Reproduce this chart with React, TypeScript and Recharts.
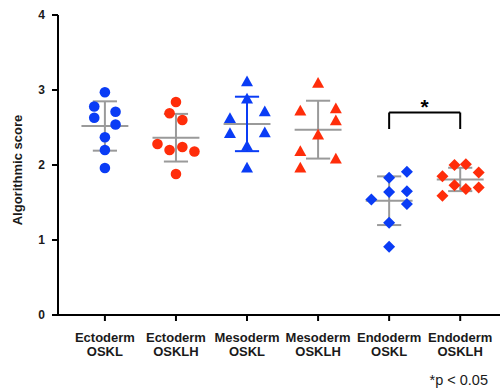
import { ScatterChart, Scatter, XAxis, YAxis, ReferenceLine, ReferenceDot } from "recharts";

const layerNames = ["Ectoderm", "Ectoderm", "Mesoderm", "Mesoderm", "Endoderm", "Endoderm"];
const factorNames = ["OSKL", "OSKLH", "OSKL", "OSKLH", "OSKL", "OSKLH"];
const yTicks = [0, 1, 2, 3, 4];

const ectoOsklScores = [2.97, 2.78, 2.71, 2.63, 2.54, 2.37, 2.2, 1.96];
const ectoOsklJitter = [0, -0.15, 0.15, -0.15, 0.15, 0, 0, 0];
const ectoOsklhScores = [2.84, 2.69, 2.6, 2.28, 2.2, 2.24, 2.18, 1.88];
const ectoOsklhJitter = [0, -0.09, 0.09, -0.26, -0.09, 0.09, 0.26, 0];
const mesoOsklScores = [3.11, 2.88, 2.62, 2.71, 2.42, 2.43, 2.25, 1.96];
const mesoOsklJitter = [0, 0, -0.24, 0.25, -0.24, 0.25, 0, 0];
const mesoOsklhScores = [3.09, 2.72, 2.75, 2.59, 2.4, 2.18, 2.08, 1.96];
const mesoOsklhJitter = [0, -0.25, 0.25, 0.25, 0, -0.25, 0.25, -0.25];
const endoOsklScores = [1.91, 1.83, 1.64, 1.65, 1.54, 1.48, 1.23, 0.91];
const endoOsklJitter = [0.25, 0, 0, 0.25, -0.25, 0.25, 0, 0];
const endoOsklhScores = [2.0, 2.01, 1.85, 1.9, 1.73, 1.68, 1.7, 1.59];
const endoOsklhJitter = [-0.08, 0.08, -0.25, 0.26, -0.08, 0.08, 0.26, -0.25];

const BLUE = "#0a3cf5";
const RED = "#ff2d0a";
const GREY = "#9a9a9a";

const groups = [
  { scores: ectoOsklScores, jitter: ectoOsklJitter, color: BLUE, kind: "circle", bar: GREY },
  { scores: ectoOsklhScores, jitter: ectoOsklhJitter, color: RED, kind: "circle", bar: GREY },
  { scores: mesoOsklScores, jitter: mesoOsklJitter, color: BLUE, kind: "triangle", bar: BLUE },
  { scores: mesoOsklhScores, jitter: mesoOsklhJitter, color: RED, kind: "triangle", bar: GREY },
  { scores: endoOsklScores, jitter: endoOsklJitter, color: BLUE, kind: "diamond", bar: GREY },
  { scores: endoOsklhScores, jitter: endoOsklhJitter, color: RED, kind: "diamond", bar: GREY },
];

function stats(v: number[]) {
  const mean = v.reduce((s, x) => s + x, 0) / v.length;
  const sd = Math.sqrt(v.reduce((s, x) => s + (x - mean) ** 2, 0) / (v.length - 1));
  return { mean, sd };
}

const makeShape = (kind: string, color: string) => (props: any) => {
  const { cx, cy } = props;
  if (kind === "circle") return <circle cx={cx} cy={cy} r={5.3} fill={color} />;
  if (kind === "triangle")
    return <polygon points={`${cx},${cy - 6.2} ${cx - 6},${cy + 4.6} ${cx + 6},${cy + 4.6}`} fill={color} />;
  return <polygon points={`${cx},${cy - 6} ${cx + 6},${cy} ${cx},${cy + 6} ${cx - 6},${cy}`} fill={color} />;
};

const font = "'Liberation Sans', Arial, sans-serif";

const XTick = (props: any) => {
  const { x, y, payload } = props;
  const i = payload.value as number;
  return (
    <text x={x} y={y} textAnchor="middle" fontFamily={font} fontSize={13} fontWeight="bold" fill="#1a1a1a">
      <tspan x={x} dy={19}>{layerNames[i]}</tspan>
      <tspan x={x} dy={14}>{factorNames[i]}</tspan>
    </text>
  );
};

export default function App() {
  return (
    <div style={{ position: "absolute", left: 0, top: 0, width: 502, height: 390, background: "#fff" }}>
      <ScatterChart width={502} height={390} margin={{ top: 15, right: 2, bottom: 10, left: 0 }}>
        <XAxis
          type="number"
          dataKey="x"
          domain={[-0.66, 5.56]}
          ticks={[0, 1, 2, 3, 4, 5]}
          allowDataOverflow
          height={65}
          tickSize={6}
          tick={<XTick />}
          axisLine={{ stroke: "#000", strokeWidth: 2 }}
          tickLine={{ stroke: "#000", strokeWidth: 2 }}
        />
        <YAxis
          type="number"
          dataKey="y"
          domain={[0, 4]}
          ticks={yTicks}
          width={58}
          tickSize={6}
          tickMargin={7}
          tick={{ fontFamily: font, fontSize: 12, fontWeight: "bold", fill: "#1a1a1a" }}
          axisLine={{ stroke: "#000", strokeWidth: 2 }}
          tickLine={{ stroke: "#000", strokeWidth: 2 }}
          label={{
            content: () => (
              <text
                transform="translate(17,170) rotate(-90)"
                textAnchor="middle"
                dominantBaseline="central"
                fontFamily={font}
                fontSize={13}
                fontWeight="bold"
                fill="#1a1a1a"
              >
                Algorithmic score
              </text>
            ),
          }}
        />
        {groups.map((g, i) => (
          <Scatter
            key={`s${i}`}
            data={g.scores.map((y, j) => ({ x: i + g.jitter[j], y }))}
            shape={makeShape(g.kind, g.color)}
            isAnimationActive={false}
          />
        ))}
        {groups.map((g, i) => {
          const { mean, sd } = stats(g.scores);
          return [
            <ReferenceLine key={`m${i}`} segment={[{ x: i - 0.33, y: mean }, { x: i + 0.33, y: mean }]} stroke={GREY} strokeWidth={2} />,
            <ReferenceLine key={`v${i}`} segment={[{ x: i, y: mean - sd }, { x: i, y: mean + sd }]} stroke={g.bar} strokeWidth={2} />,
            <ReferenceLine key={`t${i}`} segment={[{ x: i - 0.17, y: mean + sd }, { x: i + 0.17, y: mean + sd }]} stroke={g.bar} strokeWidth={2} />,
            <ReferenceLine key={`b${i}`} segment={[{ x: i - 0.17, y: mean - sd }, { x: i + 0.17, y: mean - sd }]} stroke={g.bar} strokeWidth={2} />,
          ];
        })}
        <ReferenceLine segment={[{ x: 4, y: 2.48 }, { x: 4, y: 2.7 }]} stroke="#000" strokeWidth={2} />
        <ReferenceLine segment={[{ x: 4, y: 2.7 }, { x: 5, y: 2.7 }]} stroke="#000" strokeWidth={2} />
        <ReferenceLine segment={[{ x: 5, y: 2.7 }, { x: 5, y: 2.48 }]} stroke="#000" strokeWidth={2} />
        <ReferenceDot
          x={4.5}
          y={2.84}
          r={0}
          shape={(p: any) => (
            <text x={p.cx} y={p.cy + 12} textAnchor="middle" fontFamily={font} fontSize={21} fontWeight="bold" fill="#000">
              *
            </text>
          )}
        />
      </ScatterChart>
      <div
        style={{
          position: "absolute",
          right: 14,
          top: 372,
          fontFamily: font,
          fontSize: 14.5,
          color: "#1a1a1a",
          lineHeight: "16px",
        }}
      >
        *p &lt; 0.05
      </div>
    </div>
  );
}
